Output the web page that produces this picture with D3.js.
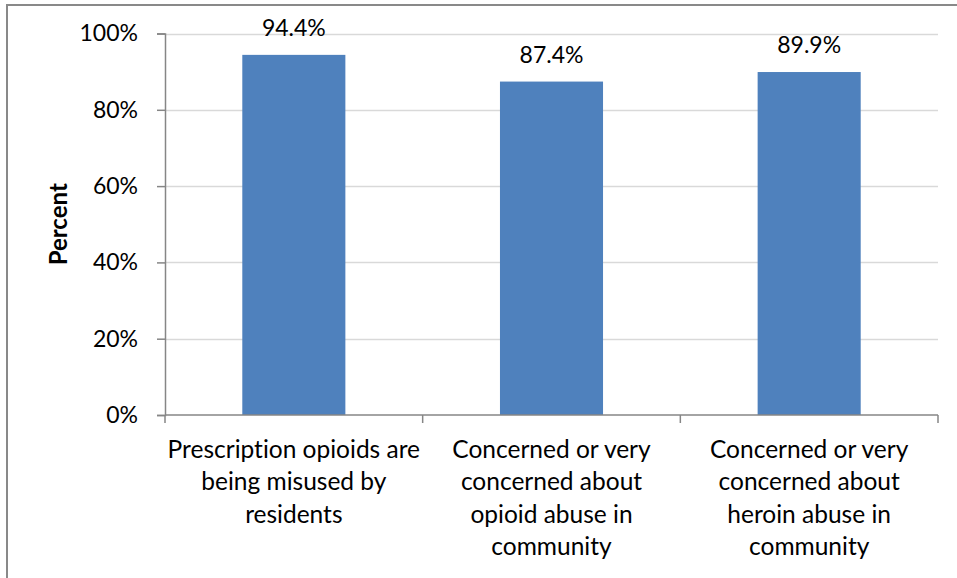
<!DOCTYPE html>
<html>
<head>
<meta charset="utf-8">
<script src="https://cdn.jsdelivr.net/npm/d3@7"></script>
<style>
  html, body { margin: 0; padding: 0; background: #fff; }
  svg { display: block; font-family: Lato, "Open Sans", sans-serif; font-variant-ligatures: none; }
</style>
</head>
<body>
<svg id="chart" width="957" height="578"></svg>
<script>
// Survey responses on opioid misuse and concern
const categories = [
  "Prescription opioids are being misused by residents",
  "Concerned or very concerned about opioid abuse in community",
  "Concerned or very concerned about heroin abuse in community"
];
const categoryLines = [
  ["Prescription opioids are", "being misused by", "residents"],
  ["Concerned or very", "concerned about", "opioid abuse in", "community"],
  ["Concerned or very", "concerned about", "heroin abuse in", "community"]
];
const values = [94.4, 87.4, 89.9];
const yTicks = [0, 20, 40, 60, 80, 100];
const yAxisTitle = "Percent";

const svg = d3.select("#chart");
const plot = { left: 165, right: 938, top: 33.5, bottom: 415 };
const axisColor = "#868686";
const gridColor = "#D9D9D9";
const barColor = "#4F81BD";

// Outer chart frame
svg.append("rect")
  .attr("x", 7).attr("y", 5)
  .attr("width", 980).attr("height", 600)
  .attr("fill", "none")
  .attr("stroke", "#898989")
  .attr("stroke-width", 2);

const x = d3.scaleBand()
  .domain(categories)
  .range([plot.left, plot.right])
  .paddingInner(0.6)
  .paddingOuter(0.3);

const y = d3.scaleLinear()
  .domain([0, 100])
  .range([plot.bottom, plot.top]);

// Horizontal gridlines
svg.append("g")
  .selectAll("line")
  .data(yTicks.filter(t => t > 0))
  .join("line")
  .attr("x1", plot.left).attr("x2", plot.right)
  .attr("y1", d => Math.round(y(d)) + 0.5)
  .attr("y2", d => Math.round(y(d)) + 0.5)
  .attr("stroke", gridColor)
  .attr("stroke-width", 1.5);

// Bars
svg.append("g")
  .selectAll("rect")
  .data(values)
  .join("rect")
  .attr("x", (d, i) => x(categories[i]))
  .attr("width", x.bandwidth())
  .attr("y", d => y(d))
  .attr("height", d => y(0) - y(d))
  .attr("fill", barColor);

// Value labels above bars
svg.append("g")
  .selectAll("text")
  .data(values)
  .join("text")
  .attr("x", (d, i) => x(categories[i]) + x.bandwidth() / 2)
  .attr("y", d => y(d) - 19)
  .attr("text-anchor", "middle")
  .attr("font-size", 23)
  .attr("fill", "#000")
  .text(d => d.toFixed(1) + "%");

// Y axis
const yAxis = d3.axisLeft(y)
  .tickValues(yTicks)
  .tickFormat(d => d + "%")
  .tickSize(8)
  .tickPadding(19);
const gy = svg.append("g")
  .attr("transform", `translate(${plot.left},0)`)
  .call(yAxis);
gy.select(".domain").attr("stroke", axisColor).attr("stroke-width", 1.5);
gy.selectAll(".tick line").attr("stroke", axisColor).attr("stroke-width", 1.5);
gy.selectAll(".tick text")
  .attr("font-size", 23)
  .attr("font-family", "Lato, sans-serif")
  .attr("fill", "#000");

// X axis baseline and category boundary ticks
const xEdges = [plot.left].concat(categories.map(c => x(c) + x.bandwidth() / 2 + x.step() / 2));
const gx = svg.append("g");
gx.append("line")
  .attr("x1", plot.left).attr("x2", plot.right)
  .attr("y1", plot.bottom).attr("y2", plot.bottom)
  .attr("stroke", axisColor).attr("stroke-width", 1.5);
gx.selectAll("line.tick")
  .data(xEdges)
  .join("line")
  .attr("class", "tick")
  .attr("x1", d => d).attr("x2", d => d)
  .attr("y1", plot.bottom).attr("y2", plot.bottom + 8)
  .attr("stroke", axisColor).attr("stroke-width", 1.5);

// Category labels, wrapped over several lines
gx.selectAll("text.cat")
  .data(categoryLines)
  .join("text")
  .attr("class", "cat")
  .attr("text-anchor", "middle")
  .attr("font-size", 24.5)
  .attr("fill", "#000")
  .each(function (lines, i) {
    const cx = x(categories[i]) + x.bandwidth() / 2;
    d3.select(this).selectAll("tspan")
      .data(lines)
      .join("tspan")
      .attr("x", cx)
      .attr("y", (d, j) => 458 + j * 32.3)
      .text(d => d);
  });

// Y axis title
svg.append("text")
  .attr("transform", `translate(67,${(plot.top + plot.bottom) / 2}) rotate(-90)`)
  .attr("text-anchor", "middle")
  .attr("font-size", 24)
  .attr("font-weight", "bold")
  .attr("fill", "#000")
  .text(yAxisTitle);
</script>
</body>
</html>
